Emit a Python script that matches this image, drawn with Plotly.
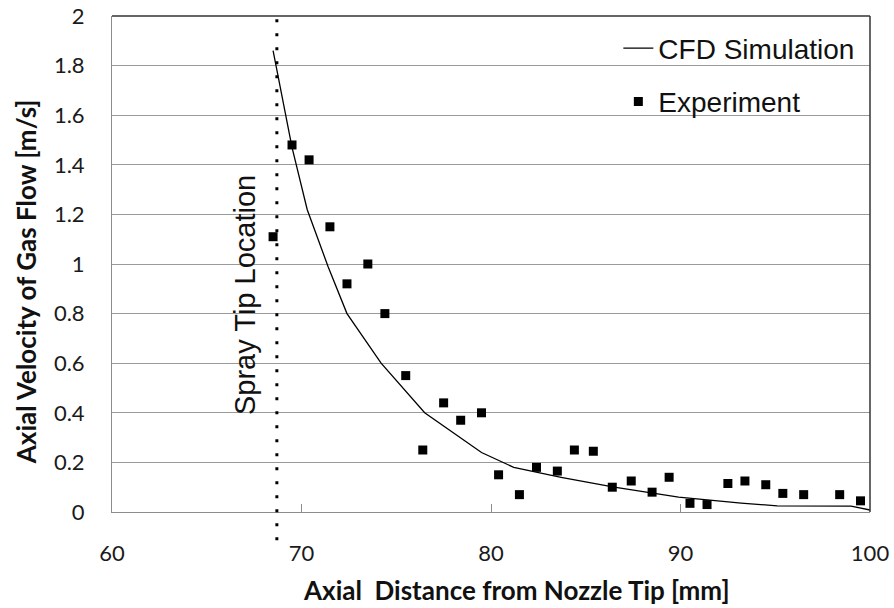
import plotly.graph_objects as go

# ---- data ----
exp_x = [68.5, 69.5, 70.4, 71.5, 72.4, 73.5, 74.4, 75.5, 76.4, 77.5, 78.4, 79.5,
         80.4, 81.5, 82.4, 83.5, 84.4, 85.4, 86.4, 87.4, 88.5, 89.4, 90.5, 91.4,
         92.5, 93.4, 94.5, 95.4, 96.5, 98.4, 99.5]
exp_y = [1.11, 1.48, 1.42, 1.15, 0.92, 1.00, 0.80, 0.55, 0.25, 0.44, 0.37, 0.40,
         0.15, 0.07, 0.18, 0.165, 0.25, 0.245, 0.10, 0.125, 0.08, 0.14, 0.035, 0.03,
         0.115, 0.125, 0.11, 0.075, 0.07, 0.07, 0.045]

cfd_x = [68.5, 69.0, 69.5, 70.3, 71.4, 72.4, 74.2, 76.5, 79.5, 81.2, 83.7, 86.5,
         89.9, 93.2, 95.1, 99.0, 100.0]
cfd_y = [1.86, 1.67, 1.47, 1.22, 0.99, 0.80, 0.60, 0.40, 0.24, 0.18, 0.14, 0.10,
         0.06, 0.036, 0.025, 0.024, 0.008]

spray_tip_x = 68.7
x_ticks = [60, 70, 80, 90, 100]
y_ticks = [0, 0.2, 0.4, 0.6, 0.8, 1.0, 1.2, 1.4, 1.6, 1.8, 2.0]
y_tick_text = ["0", "0.2", "0.4", "0.6", "0.8", "1", "1.2", "1.4", "1.6", "1.8", "2"]

TICK_FONT = dict(family="Lato", size=22, color="#1a1a1a")
ARIAL = "Liberation Sans"

fig = go.Figure()
fig.add_trace(go.Scatter(
    x=cfd_x, y=cfd_y, mode="lines", name="CFD Simulation",
    line=dict(color="black", width=1.3), legendgroup="a"))
fig.add_trace(go.Scatter(
    x=exp_x, y=exp_y, mode="markers", name="Experiment",
    marker=dict(symbol="square", size=9, color="black"), legendgroup="b"))

fig.update_layout(
    width=894, height=608,
    margin=dict(l=112, r=24, t=16, b=96, autoexpand=False),
    paper_bgcolor="white", plot_bgcolor="white",
    showlegend=True,
    legend=dict(
        x=0.668, y=0.985, xanchor="left", yanchor="top",
        bgcolor="rgba(0,0,0,0)", font=dict(family=ARIAL, size=28, color="#111"),
        traceorder="grouped", tracegroupgap=14),
    xaxis=dict(
        range=[60, 100], tickvals=x_ticks, showgrid=False, zeroline=False,
        showline=True, linecolor="#8c8c8c", linewidth=1, automargin=False,
        ticks="inside", ticklen=8, tickcolor="#8c8c8c",
        tickfont=TICK_FONT, ticklabelstandoff=22),
    yaxis=dict(
        range=[0, 2], tickvals=y_ticks, ticktext=y_tick_text, automargin=False,
        showgrid=True, gridcolor="#9a9a9a", gridwidth=1, zeroline=False,
        showline=True, linecolor="#8c8c8c", linewidth=1, ticks="",
        tickfont=TICK_FONT, ticklabelstandoff=22),
    shapes=[
        dict(type="line", xref="x", yref="paper", x0=spray_tip_x, x1=spray_tip_x,
             y0=-0.057, y1=1.0, line=dict(color="black", width=3, dash="3px,11px")),
        dict(type="line", xref="paper", yref="paper", x0=0, x1=1, y0=1, y1=1,
             layer="above", line=dict(color="#333333", width=1.5)),
        dict(type="line", xref="paper", yref="paper", x0=1, x1=1, y0=0, y1=1,
             layer="above", line=dict(color="#333333", width=1.5)),
    ],
    annotations=[
        dict(text="Spray Tip Location", xref="paper", yref="paper", x=0.1755, y=0.4375,
             xanchor="center", yanchor="middle",
             textangle=-90, showarrow=False, font=dict(family=ARIAL, size=29, color="#111")),
        dict(text="<b>Axial  Distance from Nozzle Tip [mm]</b>", xref="paper", yref="paper",
             x=0.534, y=-0.157, showarrow=False,
             font=dict(family="Lato", size=26, color="#111"), xanchor="center", yanchor="middle"),
        dict(text="<b>Axial Velocity of Gas Flow [m/s]</b>", xref="paper", yref="paper",
             x=-0.113, y=0.464, textangle=-90, showarrow=False,
             font=dict(family="Lato", size=26, color="#111"), xanchor="center", yanchor="middle"),
    ],
)

fig.write_html("out.html")
